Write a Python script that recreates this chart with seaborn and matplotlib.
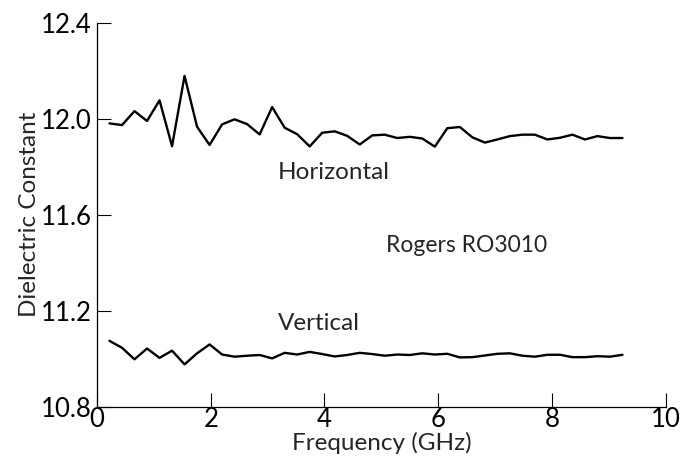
import numpy as np
import pandas as pd
import matplotlib
matplotlib.use("Agg")
import matplotlib.pyplot as plt
import seaborn as sns

sns.set_style("ticks")
plt.rcParams['font.family'] = ['Lato', 'DejaVu Sans']

# frequency points (GHz)
freq = [0.22, 0.44, 0.66, 0.88, 1.10, 1.32, 1.54, 1.76, 1.98, 2.20,
        2.42, 2.64, 2.86, 3.08, 3.30, 3.52, 3.74, 3.96, 4.18, 4.40,
        4.62, 4.84, 5.06, 5.28, 5.50, 5.72, 5.94, 6.16, 6.38, 6.60,
        6.82, 7.04, 7.26, 7.48, 7.70, 7.92, 8.14, 8.36, 8.58, 8.80,
        9.02, 9.24]

horizontal = [11.980, 11.973, 12.031, 11.990, 12.076, 11.885, 12.178, 11.966, 11.890, 11.976,
              11.997, 11.977, 11.934, 12.048, 11.962, 11.935, 11.884, 11.941, 11.947, 11.928,
              11.892, 11.930, 11.933, 11.919, 11.924, 11.917, 11.883, 11.960, 11.965, 11.922,
              11.900, 11.913, 11.927, 11.933, 11.933, 11.913, 11.920, 11.933, 11.913, 11.927,
              11.919, 11.919]

vertical = [11.074, 11.045, 10.997, 11.042, 11.003, 11.033, 10.976, 11.022, 11.059, 11.017,
            11.008, 11.012, 11.015, 11.001, 11.024, 11.017, 11.028, 11.019, 11.009, 11.015,
            11.024, 11.019, 11.012, 11.017, 11.015, 11.022, 11.017, 11.020, 11.005, 11.006,
            11.013, 11.020, 11.022, 11.012, 11.008, 11.016, 11.016, 11.006, 11.006, 11.010,
            11.008, 11.016]

df = pd.DataFrame({
    "Frequency": freq * 2,
    "Dielectric": horizontal + vertical,
    "Polarization": ["Horizontal"] * len(freq) + ["Vertical"] * len(freq),
})

fig = plt.figure(figsize=(6.8, 4.61), dpi=100)
ax = fig.add_axes([0.1426, 0.118, 0.8364, 0.833])

sns.lineplot(data=df, x="Frequency", y="Dielectric", units="Polarization",
             estimator=None, color="black", linewidth=1.7, ax=ax, legend=False)

ax.set_xlim(0, 10)
ax.set_ylim(10.8, 12.4)
ax.set_xticks([0, 2, 4, 6, 8, 10])
ax.set_yticks([10.8, 11.2, 11.6, 12.0, 12.4])
ax.set_yticklabels(["10.8", "11.2", "11.6", "12.0", "12.4"])
ax.tick_params(direction="in", length=10, width=0.8, labelsize=18.5, colors="black")
ax.tick_params(axis="y", pad=4)
ax.tick_params(axis="x", pad=0)
sns.despine(ax=ax)
for s in ["left", "bottom"]:
    ax.spines[s].set_linewidth(0.9)
    ax.spines[s].set_color("black")

ax.set_xlabel("Frequency (GHz)", fontsize=17.5, labelpad=0)
ax.set_ylabel("Dielectric Constant", fontsize=17.5, labelpad=0)

ax.text(3.18, 11.777, "Horizontal", fontsize=17.5, va="center", ha="left")
ax.text(5.08, 11.473, "Rogers RO3010", fontsize=16.5, va="center", ha="left")
ax.text(3.18, 11.148, "Vertical", fontsize=17.5, va="center", ha="left")

fig.savefig("out.png", dpi=100)
